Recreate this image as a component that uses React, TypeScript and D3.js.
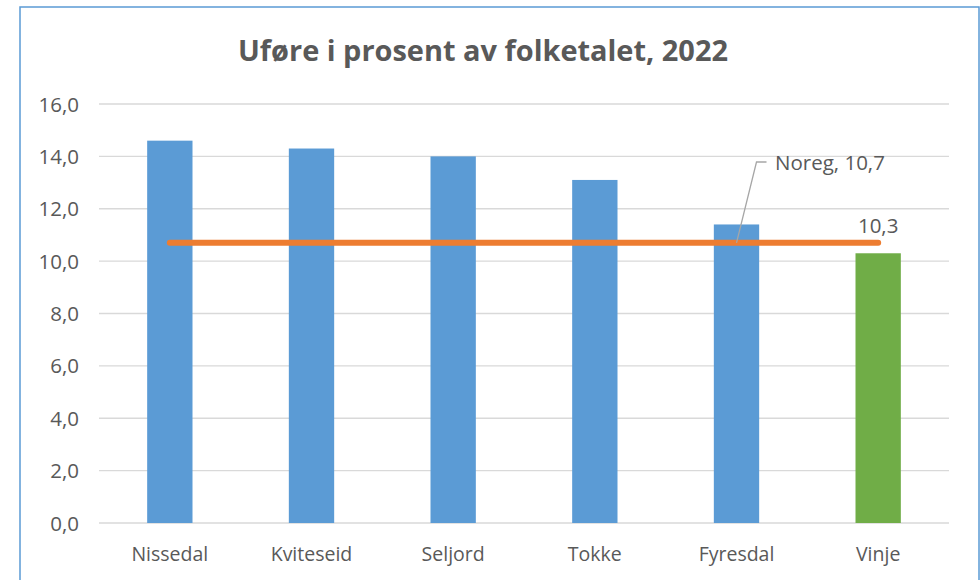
import React from "react";
import * as d3 from "d3";

const categories = ["Nissedal", "Kviteseid", "Seljord", "Tokke", "Fyresdal", "Vinje"];
const values = [14.6, 14.3, 14.0, 13.1, 11.4, 10.3];
const barColors = ["#5B9BD5", "#5B9BD5", "#5B9BD5", "#5B9BD5", "#5B9BD5", "#70AD47"];
const norwayValue = 10.7;
const norwayLabel = "Noreg, 10,7";
const yTicks = [0, 2, 4, 6, 8, 10, 12, 14, 16];
const title = "Uføre i prosent av folketalet, 2022";

const W = 980;
const H = 580;
const left = 99;
const right = 949;
const top = 104;
const bottom = 523;
const font = "'Open Sans', 'Liberation Sans', sans-serif";
const textColor = "#595959";

const fmt = (v: number) => v.toFixed(1).replace(".", ",");

export default function App() {
  const x = d3.scaleBand<string>().domain(categories).range([left, right]).paddingInner(0.68).paddingOuter(0.34);
  const y = d3.scaleLinear().domain([0, 16]).range([bottom, top]);
  const cx = (c: string) => (x(c) as number) + x.bandwidth() / 2;
  const lineGen = d3.line<string>().x((c) => cx(c)).y(() => y(norwayValue));
  const ly = y(norwayValue);
  const leaderX = cx("Fyresdal");
  const last = categories[categories.length - 1];

  return (
    <div style={{ position: "absolute", left: 0, top: 0 }}>
      <svg width={W} height={H} style={{ display: "block" }}>
        <rect x={0} y={0} width={W} height={H} fill="#fff" />
        <rect x={20} y={7} width={959} height={H} fill="none" stroke="#5B9BD5" strokeWidth={1.5} />
        <text x={483} y={61} textAnchor="middle" fontFamily={font} fontWeight="bold" fontSize={29} fill={textColor} textLength={490} lengthAdjust="spacingAndGlyphs">
          {title}
        </text>
        {yTicks.map((t) => (
          <g key={t}>
            <line x1={left} x2={right} y1={y(t)} y2={y(t)} stroke="#D9D9D9" strokeWidth={1.3} />
            <text x={79} y={y(t) + 7.5} textAnchor="end" fontFamily={font} fontSize={20.5} fill={textColor}>
              {fmt(t)}
            </text>
          </g>
        ))}
        {categories.map((c, i) => (
          <rect key={c} x={x(c)} y={y(values[i])} width={x.bandwidth()} height={y(0) - y(values[i])} fill={barColors[i]} />
        ))}
        {categories.map((c) => (
          <text key={c} x={cx(c)} y={561} textAnchor="middle" fontFamily={font} fontSize={19.5} fill={textColor}>
            {c}
          </text>
        ))}
        <path d={lineGen(categories) || ""} fill="none" stroke="#ED7D31" strokeWidth={6} strokeLinecap="round" />
        <path d={`M${leaderX},${ly} L${leaderX + 20},${162} L${leaderX + 30},${162}`} fill="none" stroke="#A6A6A6" strokeWidth={1.3} />
        <text x={775} y={170} fontFamily={font} fontSize={20.5} fill={textColor}>
          {norwayLabel}
        </text>
        <text x={cx(last)} y={233} textAnchor="middle" fontFamily={font} fontSize={20.5} fill={textColor}>
          {fmt(values[values.length - 1])}
        </text>
      </svg>
    </div>
  );
}
